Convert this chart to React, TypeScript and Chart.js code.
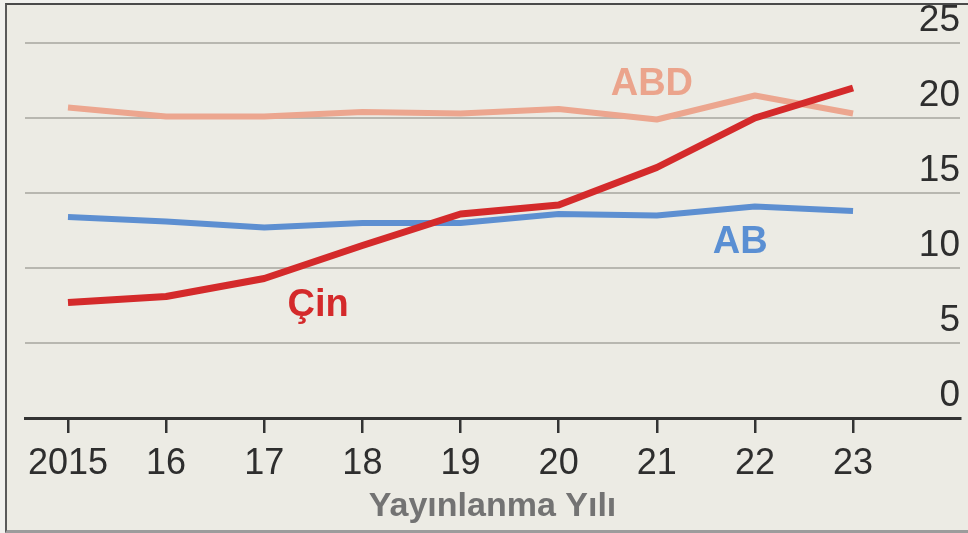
import React, { useEffect, useRef } from 'react';
import { Chart, registerables } from 'chart.js';

Chart.register(...registerables);

const years = [2015, 2016, 2017, 2018, 2019, 2020, 2021, 2022, 2023];
const xTickLabels = ['2015', '16', '17', '18', '19', '20', '21', '22', '23'];
const yTickValues = [0, 5, 10, 15, 20, 25];
const yTickLabels = ['0', '5', '10', '15', '20', '25'];

const cinValues = [7.7, 8.1, 9.3, 11.5, 13.6, 14.2, 16.7, 20.0, 22.0];
const abValues = [13.4, 13.1, 12.7, 13.0, 13.0, 13.6, 13.5, 14.1, 13.8];
const abdValues = [20.7, 20.1, 20.1, 20.4, 20.3, 20.6, 19.9, 21.5, 20.3];

const seriesNames = ['Çin', 'AB', 'ABD'];
const seriesColors = ['#d42a2b', '#5d8fd1', '#eca68f'];
const labelColors = ['#d42a2b', '#5a8fd3', '#eba48c'];
const labelYears = [2017.55, 2021.85, 2020.95];
const labelValues = [7.5, 11.7, 22.2];
const xTitle = 'Yayınlanma Yılı';

const FONT = '"Liberation Sans", Arial, Helvetica, sans-serif';

const labelPlugin = {
  id: 'seriesLabels',
  afterDatasetsDraw(chart: any) {
    const { ctx, scales } = chart;
    const x = scales.x;
    const y = scales.y;
    ctx.save();
    ctx.font = `bold 38px ${FONT}`;
    ctx.textAlign = 'center';
    ctx.textBaseline = 'middle';
    seriesNames.forEach((name, i) => {
      ctx.fillStyle = labelColors[i];
      ctx.fillText(name, x.getPixelForValue(labelYears[i]), y.getPixelForValue(labelValues[i]));
    });
    ctx.restore();
  },
};

export default function App() {
  const canvasRef = useRef<HTMLCanvasElement | null>(null);

  useEffect(() => {
    const canvas = canvasRef.current;
    if (!canvas) return;
    const mk = (vals: number[]) => years.map((yr, i) => ({ x: yr, y: vals[i] }));
    const chart = new Chart(canvas, {
      type: 'line',
      data: {
        datasets: [
          { label: seriesNames[0], data: mk(cinValues), borderColor: seriesColors[0], borderWidth: 7 },
          { label: seriesNames[1], data: mk(abValues), borderColor: seriesColors[1], borderWidth: 6 },
          { label: seriesNames[2], data: mk(abdValues), borderColor: seriesColors[2], borderWidth: 6 },
        ] as any,
      },
      options: {
        responsive: false,
        animation: false,
        maintainAspectRatio: false,
        layout: { padding: { left: 25, right: 8, top: 43, bottom: 0 } },
        elements: {
          point: { radius: 0, hoverRadius: 0 },
          line: { tension: 0, borderJoinStyle: 'round', borderCapStyle: 'butt' },
        },
        plugins: { legend: { display: false }, tooltip: { enabled: false } },
        scales: {
          x: {
            type: 'linear',
            min: 2014.562,
            max: 2024.09,
            afterBuildTicks: (scale: any) => {
              scale.ticks = years.map((v) => ({ value: v }));
            },
            afterFit: (scale: any) => {
              scale.height = 115;
            },
            grid: {
              display: true,
              drawOnChartArea: false,
              drawTicks: true,
              tickLength: 15,
              color: '#333333',
              lineWidth: 2.5,
            },
            border: { display: true, color: '#333333', width: 3 },
            ticks: {
              padding: 9,
              color: '#2e2e2e',
              font: { family: FONT, size: 36 },
              maxRotation: 0,
              autoSkip: false,
              callback: (value: any) => {
                const idx = years.indexOf(Number(value));
                return idx >= 0 ? xTickLabels[idx] : '';
              },
            },
            title: {
              display: true,
              text: xTitle,
              color: '#737373',
              font: { family: FONT, size: 34, weight: 'bold' },
              padding: { top: 0, bottom: 6 },
            },
          },
          y: {
            type: 'linear',
            position: 'right',
            min: 0,
            max: 25,
            afterBuildTicks: (scale: any) => {
              scale.ticks = yTickValues.map((v) => ({ value: v }));
            },
            afterFit: (scale: any) => {
              scale.width = 0;
            },
            grid: { color: '#b8b7b0', lineWidth: 2, drawTicks: false },
            border: { display: false },
            ticks: {
              mirror: true,
              padding: 0,
              labelOffset: -22,
              color: '#2e2e2e',
              font: { family: FONT, size: 37 },
              callback: (value: any) => {
                const idx = yTickValues.indexOf(Number(value));
                return idx >= 0 ? yTickLabels[idx] : '';
              },
            },
          },
        },
      },
      plugins: [labelPlugin],
    });
    return () => chart.destroy();
  }, []);

  return (
    <div
      style={{
        position: 'fixed',
        left: 0,
        top: 0,
        width: 968,
        height: 533,
        background: '#f1f1ee',
        overflow: 'hidden',
      }}
    >
      <div
        style={{
          position: 'absolute',
          left: 5,
          top: 3,
          width: 963,
          height: 530,
          boxSizing: 'border-box',
          background: '#ecebe4',
          borderLeft: '2px solid #5a5a5a',
          borderTop: '2px solid #4a4a4a',
          borderBottom: '3px solid #9c9c9c',
        }}
      />
      <canvas
        ref={canvasRef}
        width={968}
        height={533}
        style={{ position: 'absolute', left: 0, top: 0, width: 968, height: 533 }}
      />
    </div>
  );
}
